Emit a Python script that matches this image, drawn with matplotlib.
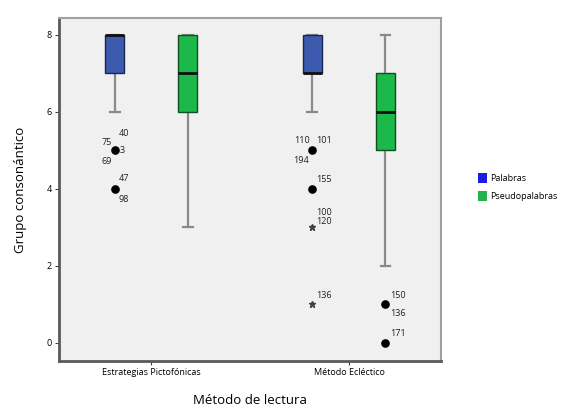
import matplotlib.pyplot as plt
from matplotlib.patches import Patch

plt.rcParams['font.family'] = ['Open Sans', 'DejaVu Sans']

# data
groups = ['Estrategias Pictofónicas', 'Método Ecléctico']
series = ['Palabras', 'Pseudopalabras']

# per box: [Pict-Palabras, Pict-Pseudo, Eclec-Palabras, Eclec-Pseudo]
q1 = [7, 6, 7, 5]
median = [8, 7, 7, 6]
q3 = [8, 8, 8, 7]
whis_lo = [6, 3, 6, 2]
whis_hi = [8, 8, 8, 8]

# outliers: box index, value, marker kind, case labels
out_box = [0, 0, 2, 2, 2, 2, 3, 3]
out_val = [5, 4, 5, 4, 3, 1, 1, 0]
out_kind = ['o', 'o', 'o', 'o', '*', '*', 'o', 'o']
out_labels = [['40', '75', '3', '69'], ['47', '98'],
              ['110', '101', '194'], ['155'],
              ['100', '120'], ['136'],
              ['150', '136'], ['171']]
# label offsets in pixels (dx, dy down)
label_offsets = [[(9, -16.5), (-8, -8), (7.5, 0.7), (-8.6, 11)], [(9, -9.7), (9, 11)],
                 [(-10.4, -9.4), (11.6, -9.4), (-11, 10.6)], [(11.6, -9)],
                 [(11.6, -14.6), (11.6, -6)], [(11.6, -8.3)],
                 [(12, -8.3), (12, 9.7)], [(12, -9.3)]]

box_colors = ['#3c5aae', '#1db84a', '#3c5aae', '#1db84a']
edge_colors = ['#1c2550', '#0e4f22', '#1c2550', '#0e4f22']
legend_colors = ['#1c1ce0', '#22b14c']

offset = 0.185
positions = [1 - offset, 1 + offset, 2 - offset, 2 + offset]

fig = plt.figure(figsize=(5.83, 4.16), dpi=100)
ax = fig.add_axes([59 / 583, 1 - 361 / 416, 382 / 583, 343 / 416])
ax.set_facecolor('#f0f0f0')

stats = []
for i in range(4):
    stats.append({'q1': q1[i], 'med': median[i], 'q3': q3[i],
                  'whislo': whis_lo[i], 'whishi': whis_hi[i], 'fliers': []})

bp = ax.bxp(stats, positions=positions, widths=0.096, capwidths=0.05,
            patch_artist=True, showfliers=False,
            whiskerprops=dict(color='#8a8a8a', lw=1.6, zorder=1),
            capprops=dict(color='#8a8a8a', lw=1.6, zorder=1),
            medianprops=dict(color='#101010', lw=2, zorder=4),
            boxprops=dict(lw=1, zorder=3))
for i, b in enumerate(bp['boxes']):
    b.set_facecolor(box_colors[i])
    b.set_edgecolor(edge_colors[i])

for i in range(len(out_box)):
    x = positions[out_box[i]]
    y = out_val[i]
    if out_kind[i] == 'o':
        ax.plot(x, y, 'o', color='black', ms=5.2, zorder=5)
    else:
        ax.plot(x, y, '*', color='#404040', ms=5, zorder=5)
    for lab, (dx, dy) in zip(out_labels[i], label_offsets[i]):
        ax.annotate(lab, (x, y), xytext=(dx * 0.72, -dy * 0.72),
                    textcoords='offset points', ha='center', va='center',
                    fontsize=6.5, color='#202020')

ax.set_xlim(0.532, 2.466)
ax.set_ylim(-0.475, 8.43)
ax.set_xticks([1, 2])
ax.set_xticklabels(groups, fontsize=6.5)
ax.set_yticks([0, 2, 4, 6, 8])
ax.set_yticklabels(['0', '2', '4', '6', '8'], fontsize=6.5)
ax.tick_params(length=3, width=0.8, color='#404040', pad=2)

for s in ['left', 'bottom']:
    ax.spines[s].set_color('#5a5a5a')
    ax.spines[s].set_linewidth(2)
for s in ['top', 'right']:
    ax.spines[s].set_color('#a0a0a0')
    ax.spines[s].set_linewidth(1.5)

ax.set_ylabel('Grupo consonántico', fontsize=9.5, labelpad=14)
ax.set_xlabel('Método de lectura', fontsize=9.5, labelpad=12)

handles = [Patch(facecolor=legend_colors[k], edgecolor='none', label=series[k]) for k in range(2)]
fig.legend(handles=handles, loc='upper left', bbox_to_anchor=(470 / 583, 1 - 165 / 416),
           frameon=False, fontsize=6.5, handlelength=1.0, handleheight=1.3,
           handletextpad=0.3, labelspacing=0.9)

fig.savefig('out.png', dpi=100)
